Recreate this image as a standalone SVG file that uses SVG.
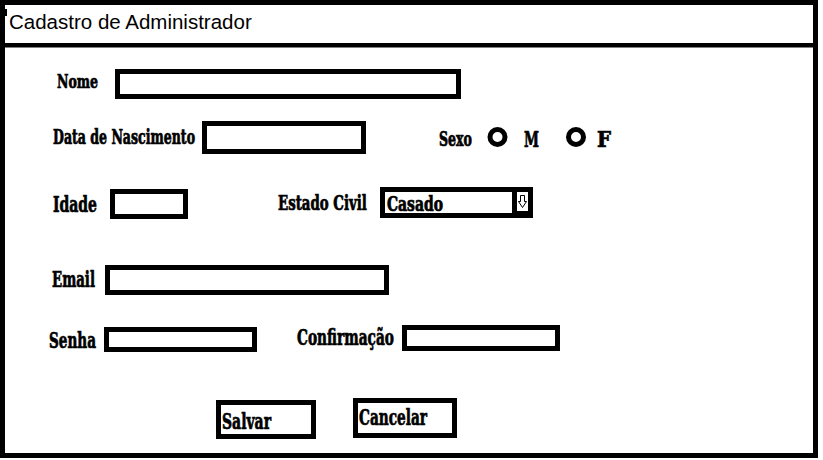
<svg xmlns="http://www.w3.org/2000/svg" width="823" height="460" viewBox="0 0 823 460">
<style>
.box{fill:#fff;stroke:#000;stroke-width:5}
.lbl{font-family:"DejaVu Serif Condensed","DejaVu Serif","Liberation Serif",serif;font-weight:bold;fill:#000;stroke:#000;stroke-width:0.7}
.title{font-family:"Liberation Sans",Arial,sans-serif;font-size:20.5px;fill:#000}
.radio{fill:#fff;stroke:#000;stroke-width:5}
</style>
<rect width="823" height="460" fill="#fff"/>
<g id="window">
<rect x="2.5" y="2.5" width="813" height="453" fill="#fff" stroke="#000" stroke-width="5"/>
<rect x="0" y="43" width="818" height="4.5" fill="#000"/>
<rect x="5" y="9" width="2" height="7" fill="#000"/>
<text class="title" x="9" y="29">Cadastro de Administrador</text>
</g>
<g id="nome">
<text class="lbl" x="57" y="88" font-size="18.5" textLength="41" lengthAdjust="spacingAndGlyphs">Nome</text>
<rect class="box" x="117.5" y="71.5" width="341" height="25"/>
</g>
<g id="nascimento">
<text class="lbl" x="53" y="144" font-size="19.5" textLength="142" lengthAdjust="spacingAndGlyphs">Data de Nascimento</text>
<rect class="box" x="204.5" y="123.5" width="159" height="28"/>
</g>
<g id="sexo">
<text class="lbl" x="439" y="146" font-size="19.5" textLength="33" lengthAdjust="spacingAndGlyphs">Sexo</text>
<circle class="radio" cx="497.5" cy="137" r="7.5"/>
<text class="lbl" x="524" y="147" font-size="22.5" textLength="15" lengthAdjust="spacingAndGlyphs">M</text>
<circle class="radio" cx="576" cy="137" r="7.5"/>
<text class="lbl" x="597" y="147" font-size="22.5" textLength="14" lengthAdjust="spacingAndGlyphs">F</text>
</g>
<g id="idade">
<text class="lbl" x="53" y="212" font-size="22" textLength="44" lengthAdjust="spacingAndGlyphs">Idade</text>
<rect class="box" x="112.5" y="191.5" width="73" height="25"/>
</g>
<g id="estado-civil">
<text class="lbl" transform="translate(278 210) scale(0.7 1)" x="0" y="0" font-size="20.5" textLength="127" lengthAdjust="spacingAndGlyphs">Estado Civil</text>
<rect x="380" y="187" width="153" height="31" fill="#000"/>
<rect x="385" y="192" width="127" height="21" fill="#fff"/>
<rect x="517" y="192" width="11" height="19" fill="#fff"/>
<text class="lbl" x="387" y="211" font-size="19.5" textLength="56" lengthAdjust="spacingAndGlyphs">Casado</text>
<path d="M520.5,195.5 h4 v6 h2 l-4,6 l-4,-6 h2 z" fill="none" stroke="#000" stroke-width="1"/>
</g>
<g id="email">
<text class="lbl" x="52" y="287" font-size="21.5" textLength="43" lengthAdjust="spacingAndGlyphs">Email</text>
<rect class="box" x="107.5" y="267.5" width="279" height="25"/>
</g>
<g id="senha">
<text class="lbl" x="49" y="348" font-size="21.5" textLength="47" lengthAdjust="spacingAndGlyphs">Senha</text>
<rect class="box" x="106.5" y="329.5" width="148" height="20"/>
</g>
<g id="confirmacao">
<text class="lbl" x="297" y="345" font-size="22" textLength="97" lengthAdjust="spacingAndGlyphs">Confirmação</text>
<rect class="box" x="404.5" y="327.5" width="153" height="21"/>
</g>
<g id="salvar">
<rect class="box" x="218.5" y="402.5" width="95" height="34"/>
<text class="lbl" x="222" y="429" font-size="22.5" textLength="49" lengthAdjust="spacingAndGlyphs">Salvar</text>
</g>
<g id="cancelar">
<rect class="box" x="355.5" y="400.5" width="99" height="35"/>
<text class="lbl" x="359" y="425" font-size="22.5" textLength="68" lengthAdjust="spacingAndGlyphs">Cancelar</text>
</g>
<g id="connectors"/>
</svg>
